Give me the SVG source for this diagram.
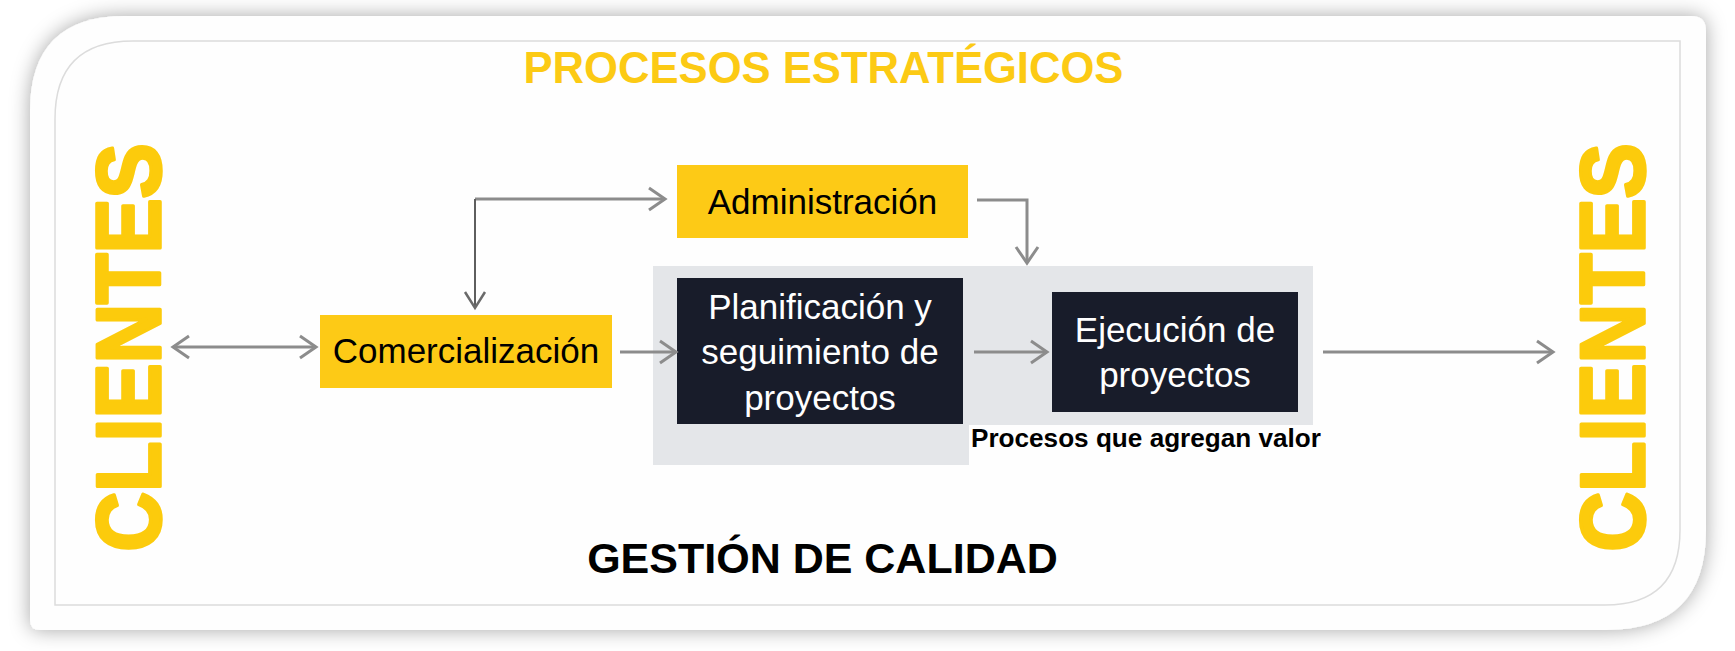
<svg xmlns="http://www.w3.org/2000/svg" width="1735" height="651" viewBox="0 0 1735 651">
<defs>
<style>
.yel{fill:#FDCA16}
.dark{fill:#181C2A}
.nt{font-family:"Liberation Sans",Arial,sans-serif;font-size:35px;text-anchor:middle}
.bt{font-family:"Liberation Sans",Arial,sans-serif;font-weight:bold;text-anchor:middle}
.cl{font-family:"Liberation Sans",Arial,sans-serif;font-weight:bold;font-size:90px;fill:#FCCB0C;stroke:#FCCB0C;stroke-width:3.5;stroke-linejoin:round;text-anchor:middle}
.conn{fill:none;stroke:#8c8c8c;stroke-width:3}
.conn2{fill:none;stroke:#5e5e5e;stroke-width:2}
</style>
<filter id="sh" x="-5%" y="-10%" width="110%" height="120%">
<feDropShadow dx="0" dy="0" stdDeviation="10" flood-color="#000" flood-opacity="0.35"/>
</filter>
<marker id="ah" markerUnits="userSpaceOnUse" markerWidth="30" markerHeight="30" viewBox="-20 -15 24 30" refX="0" refY="0" orient="auto-start-reverse">
<path d="M -16 -11 L 0 0 L -16 11" fill="none" stroke="#8c8c8c" stroke-width="3"/>
</marker>
<marker id="ah2" markerUnits="userSpaceOnUse" markerWidth="30" markerHeight="30" viewBox="-20 -15 24 30" refX="0" refY="0" orient="auto-start-reverse">
<path d="M -16 -10 L 0 0 L -16 10" fill="none" stroke="#6a6a6a" stroke-width="2.5"/>
</marker>
</defs>
<rect width="1735" height="651" fill="#ffffff"/>
<g id="frame">
<path d="M 125 16 L 1691 16 Q 1706 16 1706 31 L 1706 530 Q 1706 630 1606 630 L 40 630 Q 30 630 30 620 L 30 111 Q 30 16 125 16 Z" fill="#fefefe" filter="url(#sh)"/>
<path d="M 133 41 L 1680 41 L 1680 530 Q 1680 605 1605 605 L 55 605 L 55 119 Q 55 41 133 41 Z" fill="none" stroke="#dcdcdc" stroke-width="1.5"/>
</g>
<g id="titles">
<text class="bt" x="823.5" y="83" font-size="43.6" fill="#FCCA14">PROCESOS ESTRATÉGICOS</text>
<text class="bt" x="822.5" y="573" font-size="43" fill="#000">GESTIÓN DE CALIDAD</text>
</g>
<g id="clientes-left">
<text class="cl" transform="translate(160,347.5) rotate(-90)" textLength="408" lengthAdjust="spacingAndGlyphs">CLIENTES</text>
</g>
<g id="clientes-right">
<text class="cl" transform="translate(1644,347.5) rotate(-90)" textLength="408" lengthAdjust="spacingAndGlyphs">CLIENTES</text>
</g>
<g id="valor-panel">
<rect x="653" y="266" width="660" height="199" fill="#E4E6E9"/>
<rect x="969" y="425" width="382" height="45" fill="#fefefe"/>
<text class="bt" x="1146" y="447" font-size="26" fill="#000" textLength="350" lengthAdjust="spacingAndGlyphs">Procesos que agregan valor</text>
</g>
<g id="administracion">
<rect class="yel" x="677" y="165" width="291" height="73"/>
<text class="nt" x="822.5" y="214" fill="#000">Administración</text>
</g>
<g id="comercializacion">
<rect class="yel" x="320" y="315" width="292" height="73"/>
<text class="nt" x="466" y="363" fill="#000">Comercialización</text>
</g>
<g id="planificacion">
<rect class="dark" x="677" y="278" width="286" height="146"/>
<text class="nt" x="820" fill="#fff"><tspan x="820" y="319">Planificación y</tspan><tspan x="820" y="364">seguimiento de</tspan><tspan x="820" y="410">proyectos</tspan></text>
</g>
<g id="ejecucion">
<rect class="dark" x="1052" y="292" width="246" height="120"/>
<text class="nt" x="1175" fill="#fff"><tspan x="1175" y="342">Ejecución de</tspan><tspan x="1175" y="387">proyectos</tspan></text>
</g>
<g id="connectors">
<line class="conn" x1="173" y1="347" x2="316" y2="347" marker-start="url(#ah)" marker-end="url(#ah)"/>
<line class="conn" x1="620" y1="352" x2="676" y2="352" marker-end="url(#ah)"/>
<line class="conn" x1="974" y1="352" x2="1047" y2="352" marker-end="url(#ah)"/>
<line class="conn" x1="1323" y1="352" x2="1553" y2="352" marker-end="url(#ah)"/>
<path class="conn" d="M 475 199 L 665 199" marker-end="url(#ah)"/>
<path class="conn2" d="M 475 199 L 475 308" marker-end="url(#ah2)"/>
<path class="conn" d="M 977 200 L 1027 200 L 1027 263" marker-end="url(#ah)"/>
</g>
</svg>
